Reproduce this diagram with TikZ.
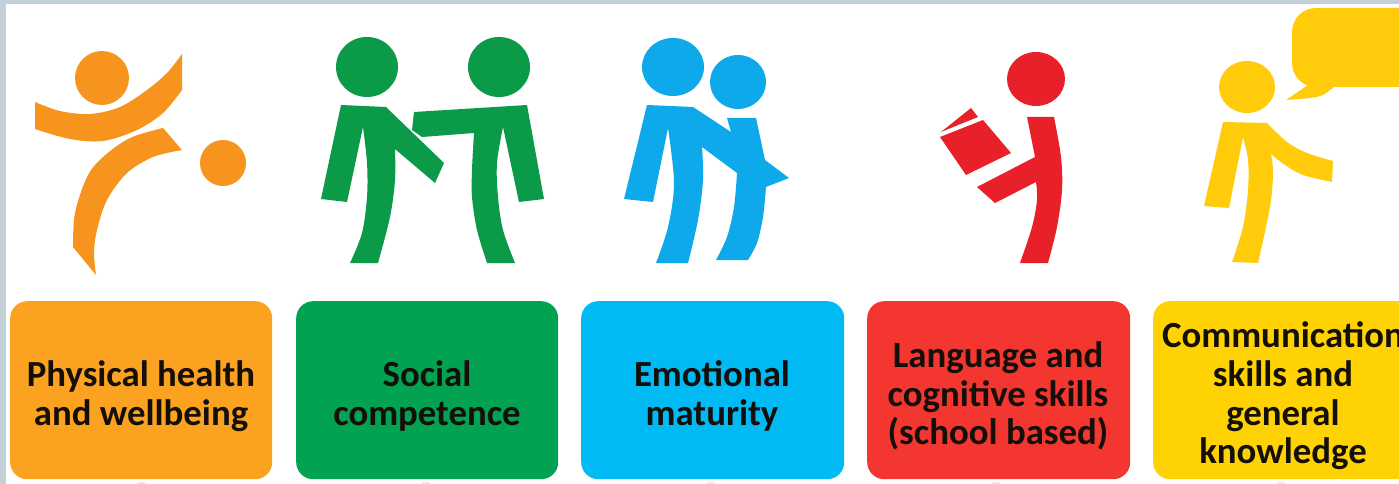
\documentclass[tikz,border=0pt]{standalone}
\usepackage{fontspec}
\setmainfont{Carlito}
\definecolor{framegrey}{HTML}{C3D0D8}
\definecolor{tickgrey}{HTML}{E4E8EA}
\definecolor{figorange}{HTML}{F7941D}
\definecolor{figgreen}{HTML}{0A9A48}
\definecolor{figblue}{HTML}{0DA9EA}
\definecolor{figred}{HTML}{E8202A}
\definecolor{figyellow}{HTML}{FFCB0B}
\definecolor{boxorange}{HTML}{FBA321}
\definecolor{boxgreen}{HTML}{02A253}
\definecolor{boxblue}{HTML}{02BAF3}
\definecolor{boxred}{HTML}{F3362F}
\definecolor{boxyellow}{HTML}{FFD203}
\definecolor{labelink}{HTML}{150F0A}
\tikzset{
  catbox/.style={rounded corners=17pt,minimum height=178pt,anchor=north west,inner sep=0pt},
  catlabel/.style={align=center,text=labelink,font=\fontsize{36.8}{38.7}\selectfont\bfseries,inner sep=0pt},
  sm/.style={smooth,tension=0.55}
}
\begin{document}
\begin{tikzpicture}[x=1pt,y=-1pt]
\useasboundingbox (0,0) rectangle (1399,484);
\clip (0,0) rectangle (1399,484);
\fill[white] (0,0) rectangle (1399,484);
\fill[framegrey] (0,0) rectangle (1399,4.5);
\fill[framegrey] (0,0) rectangle (6,484);
% boxes
\node[catbox,fill=boxorange,minimum width=262pt] (b1) at (10,301) {};
\node[catbox,fill=boxgreen,minimum width=262pt] (b2) at (296,301) {};
\node[catbox,fill=boxblue,minimum width=263pt] (b3) at (581,301) {};
\node[catbox,fill=boxred,minimum width=263pt] (b4) at (867,301) {};
\node[catbox,fill=boxyellow,minimum width=290pt] (b5) at (1153,301) {};
\node[catlabel] (t1) at (141,396) {Physical health\\and wellbeing};
\node[catlabel] (t2) at (427,396) {Social\\competence};
\node[catlabel] (t3) at (712,396) {Emotional\\maturity};
\node[catlabel] (t4) at (998,396) {Language and\\cognitive skills\\(school based)};
\node[catlabel] (t5) at (1283,396) {Communication\\skills and\\general\\knowledge};
% faint marks under the boxes
\foreach \tx in {141,426,711,996,1281}
  \fill[tickgrey] (\tx-4,481.5) rectangle (\tx+4,484);
% orange figure
\fill[figorange] (102,78) circle (27);
\fill[figorange] (223,163) circle (23);
\fill[figorange] (35,102) -- plot[sm] coordinates {(35,102) (60,111) (90,114) (120,107) (147,90) (167,73) (182,54)}
  -- plot[sm] coordinates {(182,90) (163,113) (137,130) (103,141) (70,139) (35,129)} -- cycle;
\fill[figorange] (163,128) -- (182,150) -- plot[sm] coordinates {(182,150) (153,157) (127,173) (107,200) (97,230) (94,253) (96,275)}
  -- (73,247) -- plot[sm] coordinates {(73,247) (75,213) (87,177) (103,157) (130,138) (163,128)} -- cycle;
% green figures
\fill[figgreen] (367,67) ellipse (31 and 30);
\fill[figgreen] (499,67) ellipse (31 and 30);
\fill[figgreen] (414,112) -- (527,105) -- (544,199) -- (519,202) -- (503,127)
  -- plot[sm] coordinates {(503,127) (497,163) (498,197) (503,230) (515,263)} -- (487,263)
  -- plot[sm] coordinates {(487,263) (477,230) (472,197) (472,170) (474,133)} -- (422,137) -- (412,130) -- cycle;
\fill[figgreen] (341,105) -- (386,107) -- (444,163) -- (435,183) -- (395,149)
  -- plot[sm] coordinates {(395,149) (395,180) (390,217) (378,263)} -- (350,263)
  -- plot[sm] coordinates {(350,263) (362,233) (367,197) (367,163) (363,127)} -- (347,202) -- (321,199) -- cycle;
% blue figures
\fill[figblue] (673,67) ellipse (31 and 29);
\fill[figblue] (738,82) ellipse (28 and 27);
\fill[figblue] (647,105) -- (693,107) -- (731,132) -- (727,118) -- (756,118) -- (765,160) -- (789,178) -- (766,187)
  -- plot[sm] coordinates {(766,187) (763,217) (757,243) (748,260)} -- (716,260)
  -- plot[sm] coordinates {(716,260) (727,237) (734,207) (737,173)} -- (702,147)
  -- plot[sm] coordinates {(702,147) (703,180) (698,220) (688,263)} -- (656,263)
  -- plot[sm] coordinates {(656,263) (668,227) (674,183) (668,128)} -- (653,202) -- (624,199) -- cycle;
% red figure
\fill[figred] (1036,79) ellipse (29 and 27);
\fill[figred] (1027,117) -- (1054,117) -- plot[sm] coordinates {(1054,117) (1061,157) (1062,190) (1057,227) (1048,263)} -- (1020,263)
  -- plot[sm] coordinates {(1020,263) (1032,227) (1037,200) (1036,182)} -- (995,203) -- (977,187) -- (1035,157) -- cycle;
\fill[figred] (940,137) -- (983,120) -- (1011,153) -- (966,175) -- cycle;
\fill[figred] (941,132) -- (971,108) -- (978,117) -- (963,123) -- cycle;
% yellow figure
\fill[figyellow] (1247,87) ellipse (28 and 26);
\fill[figyellow] (1223,122) -- (1267,123) -- plot[sm] coordinates {(1267,123) (1287,142) (1307,153) (1333,161)} -- (1332,182)
  -- plot[sm] coordinates {(1332,182) (1303,175) (1285,165) (1271,154)}
  -- plot[sm] coordinates {(1271,154) (1273,173) (1270,207) (1258,263)} -- (1232,262)
  -- plot[sm] coordinates {(1232,262) (1243,227) (1248,190) (1248,160) (1243,137)} -- (1229,208) -- (1204,206) -- cycle;
\fill[figyellow,rounded corners=24pt] (1292,8) rectangle (1440,87);
\fill[figyellow] (1308,80) -- (1308,85) -- (1286,100)
  -- plot[sm] coordinates {(1286,100) (1310,98) (1323,95) (1335,86)} -- cycle;
\end{tikzpicture}
\end{document}
